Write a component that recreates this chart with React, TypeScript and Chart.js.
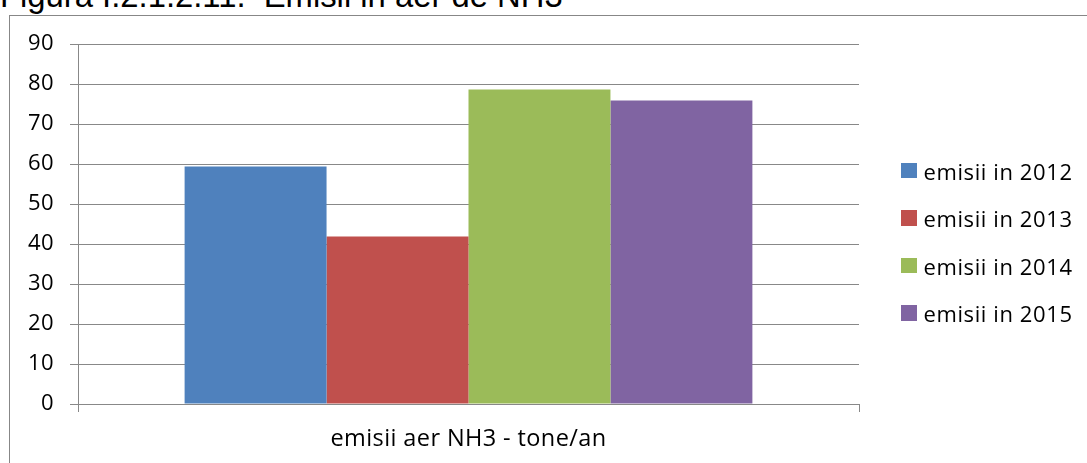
import React, { useEffect, useRef } from "react";
import { Chart, registerables } from "chart.js";

Chart.register(...registerables);

const titleText = "Figura I.2.1.2.11.  Emisii in aer de NH3";
const categories = ["emisii aer NH3 - tone/an"];
const seriesNames = ["emisii in 2012", "emisii in 2013", "emisii in 2014", "emisii in 2015"];
const values2012 = [59.4];
const values2013 = [41.9];
const values2014 = [78.6];
const values2015 = [75.9];
const seriesValues = [values2012, values2013, values2014, values2015];
const seriesColors = ["#4F81BD", "#C0504D", "#9BBB59", "#8064A2"];
const yMin = 0;
const yMax = 90;
const yStep = 10;

const FONT = "'Open Sans', sans-serif";

const spacingPlugin = {
  id: "letterSpacingForAxis",
  beforeDraw(chart: any) {
    const ctx = chart.ctx as any;
    if ("letterSpacing" in ctx) ctx.letterSpacing = "0.4px";
  },
  afterDraw(chart: any) {
    const ctx = chart.ctx as any;
    if ("letterSpacing" in ctx) ctx.letterSpacing = "0px";
  },
};

export default function App() {
  const canvasRef = useRef<HTMLCanvasElement | null>(null);

  useEffect(() => {
    const canvas = canvasRef.current;
    if (!canvas) return;
    const chart = new Chart(canvas, {
      type: "bar",
      data: {
        labels: categories,
        datasets: seriesNames.map((name, i) => ({
          label: name,
          data: seriesValues[i],
          backgroundColor: seriesColors[i],
          borderWidth: 0,
          barPercentage: 1,
          categoryPercentage: 0.727,
        })),
      },
      plugins: [spacingPlugin],
      options: {
        responsive: false,
        animation: false,
        devicePixelRatio: 1,
        layout: { padding: { left: 18, right: 228, top: 44, bottom: 0 } },
        plugins: {
          legend: { display: false },
          title: { display: false },
          tooltip: { enabled: false },
        },
        scales: {
          x: {
            grid: {
              display: true,
              offset: true,
              drawOnChartArea: false,
              drawTicks: true,
              tickLength: 8,
              color: "#888888",
              lineWidth: 1,
            },
            border: { display: true, color: "#888888", width: 1 },
            ticks: {
              color: "#000000",
              font: { family: FONT, size: 23.5 },
              padding: 13,
            },
            afterFit: (s: any) => {
              s.height = 59;
            },
          },
          y: {
            min: yMin,
            max: yMax,
            grid: {
              color: "#888888",
              lineWidth: 1,
              tickLength: 8,
              drawTicks: true,
            },
            border: { display: true, color: "#888888", width: 1 },
            ticks: {
              stepSize: yStep,
              color: "#000000",
              font: { family: FONT, size: 22 },
              padding: 16,
            },
            afterFit: (s: any) => {
              s.width = 60;
            },
          },
        },
      },
    });
    return () => chart.destroy();
  }, []);

  return (
    <div
      style={{
        position: "fixed",
        left: 0,
        top: 0,
        width: 1087,
        height: 463,
        overflow: "hidden",
        background: "#ffffff",
      }}
    >
      <div
        style={{
          position: "absolute",
          left: 0,
          top: -20.3,
          fontFamily: "'Liberation Sans', Arial, sans-serif",
          fontSize: 32.8,
          lineHeight: "32px",
          whiteSpace: "pre",
          color: "#000",
        }}
      >
        {titleText}
      </div>
      <div
        style={{
          position: "absolute",
          left: 9,
          top: 15,
          width: 1200,
          height: 600,
          border: "1px solid #878787",
          boxSizing: "border-box",
        }}
      />
      <canvas
        ref={canvasRef}
        width={1087}
        height={463}
        style={{ position: "absolute", left: 0, top: 0, width: 1087, height: 463 }}
      />
      <div
        style={{
          position: "absolute",
          left: 901,
          top: 155,
          display: "flex",
          flexDirection: "column",
          gap: 16.5,
        }}
      >
        {seriesNames.map((name, i) => (
          <div
            key={name}
            style={{ display: "flex", alignItems: "center", height: 31 }}
          >
            <span
              style={{
                display: "inline-block",
                width: 15.5,
                height: 15.5,
                background: seriesColors[i],
                marginRight: 7,
              }}
            />
            <span
              style={{
                fontFamily: FONT,
                fontSize: 22,
                letterSpacing: "0.6px",
                color: "#000",
                whiteSpace: "pre",
              }}
            >
              {name}
            </span>
          </div>
        ))}
      </div>
    </div>
  );
}
